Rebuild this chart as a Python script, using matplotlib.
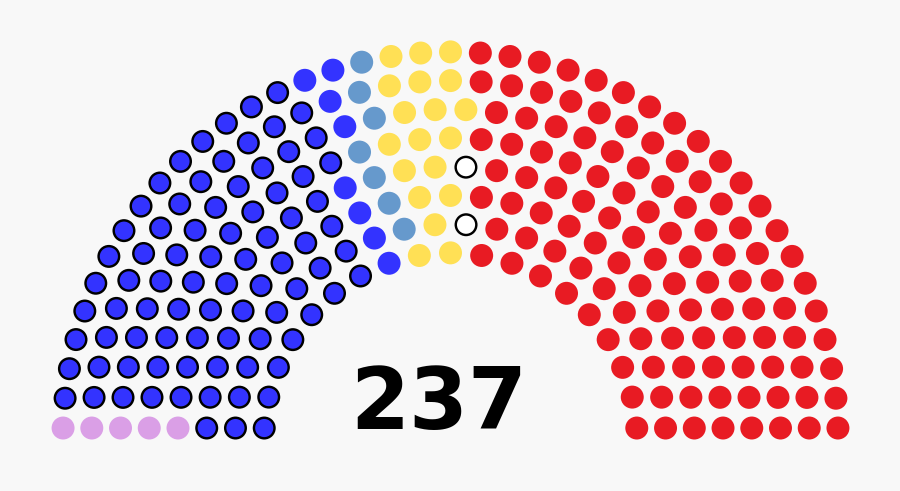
import math
import matplotlib
matplotlib.use("Agg")
import matplotlib.pyplot as plt
from matplotlib.patches import Circle

# party seats, in order from left to right
party_names = ["Lilac", "Blue (bordered)", "Blue", "Steel blue", "Yellow", "Vacant", "Red"]
party_seats = [5, 83, 8, 7, 19, 2, 113]
party_colors = ["#DA9FE6", "#3333FF", "#3333FF", "#6699CC", "#FFE055", "#FFFFFF", "#E81B23"]
party_border = [False, True, False, False, False, True, False]

total = sum(party_seats)
totals = [3, 15, 33, 61, 95, 138, 189, 247, 313, 388, 469, 559]

# number of rows needed
rows = next(i + 1 for i, t in enumerate(totals) if t >= total)
radius = 0.4 / rows

# seat centres, like the usual parliament diagram tool
poslist = []
for i in range(1, rows):
    J = int(float(total) / totals[rows - 1] * math.pi / (2 * math.asin(2.0 / (3.0 * rows + 4.0 * i - 2.0))))
    R = (3.0 * rows + 4.0 * i - 2.0) / (4.0 * rows)
    for j in range(J):
        a = j * (math.pi - 2 * math.sin(radius / R)) / (J - 1) + math.sin(radius / R)
        poslist.append((a, R * math.cos(a), R * math.sin(a)))
J = total - len(poslist)
R = (7.0 * rows - 2.0) / (4.0 * rows)
for j in range(J):
    a = j * (math.pi - 2 * math.sin(radius / R)) / (J - 1) + math.sin(radius / R)
    poslist.append((a, R * math.cos(a), R * math.sin(a)))
poslist.sort(reverse=True)

fig = plt.figure(figsize=(9, 4.91), dpi=100)
fig.patch.set_facecolor("#F8F8F8")
ax = fig.add_axes([0, 0, 1, 1])
ax.set_facecolor("#F8F8F8")

lw = 1.75
k = 0
for n, col, bord in zip(party_seats, party_colors, party_border):
    for s in range(n):
        _, x, y = poslist[k]
        if bord:
            ax.add_patch(Circle((x, y), radius * 0.895, facecolor=col, edgecolor="black", linewidth=lw))
        else:
            ax.add_patch(Circle((x, y), radius, facecolor=col, edgecolor="none"))
        k += 1

ax.text(-0.052, 0.046, str(total), ha="center", va="baseline", fontsize=61,
        fontweight="bold", family="DejaVu Sans", color="black")

ax.set_xlim(-1.9613, 1.9569)
ax.set_ylim(-0.2242, 1.9134)
ax.set_aspect("equal")
ax.axis("off")

fig.savefig("out.png", dpi=100, facecolor=fig.get_facecolor())
